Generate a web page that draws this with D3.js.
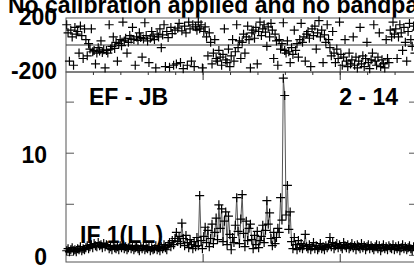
<!DOCTYPE html>
<html>
<head>
<meta charset="utf-8">
<script src="https://cdn.jsdelivr.net/npm/d3@7"></script>
<style>
  body { margin: 0; background: #fff; }
  svg text { font-family: "Liberation Sans", Arial, sans-serif; font-weight: bold; }
</style>
</head>
<body>
<div id="chart"></div>
<script>
// channel numbers: every second channel of a 512 channel spectrum
var channels = d3.range(1, 512, 2);

// amplitude per channel (lower panel)
var amplitude = [
  0.4,0.6,0.3,0.5,0.7,0.4,0.5,0.3,0.6,0.5,0.8,0.4,0.6,0.5,0.7,0.9,
  0.6,0.8,1.0,0.7,1.1,0.9,0.8,1.2,0.9,1.0,0.7,1.1,0.8,1.0,0.9,0.6,
  0.8,0.5,0.9,0.7,0.6,0.8,0.5,0.9,0.7,1.0,0.6,0.8,0.5,0.7,0.9,0.6,
  0.8,0.5,0.7,0.9,0.6,0.4,0.8,0.6,0.9,0.5,0.7,0.6,0.8,0.4,0.7,0.5,
  0.6,0.9,0.5,0.7,0.4,0.8,0.6,1.0,0.7,0.5,0.9,1.2,0.8,1.4,1.0,1.6,
  2.2,1.3,1.8,1.1,3.1,1.6,0.9,1.9,1.2,0.7,1.5,1.0,0.6,1.3,0.8,1.7,
  0.9,5.8,1.4,0.6,1.8,2.7,1.2,2.4,0.8,1.6,3.0,1.1,2.2,3.6,1.5,4.9,
  2.6,4.5,1.3,3.3,4.2,1.0,3.8,2.0,0.5,1.7,1.2,2.9,5.6,2.3,1.1,3.5,
  5.9,2.1,0.8,3.3,1.4,2.6,3.0,1.5,0.6,1.9,1.0,2.3,0.7,1.4,1.8,2.9,
  1.2,2.4,5.3,3.0,4.1,1.6,0.9,2.2,1.1,1.7,2.6,2.2,5.6,3.4,17.3,15.6,
  3.9,6.8,2.5,4.2,1.3,0.6,1.7,1.0,0.5,1.4,0.7,1.1,0.6,0.9,2.0,0.8,
  0.6,1.0,0.5,0.8,1.2,0.6,0.9,0.5,0.7,1.1,0.6,0.8,0.5,0.9,0.7,1.0,
  1.7,0.8,1.2,0.6,0.9,1.1,0.7,1.0,0.8,0.6,1.2,0.9,0.7,1.0,0.6,0.8,
  1.1,0.7,0.9,0.5,1.0,0.8,0.6,1.1,0.7,0.9,0.5,0.8,1.0,0.6,0.9,0.7,
  0.5,0.8,1.0,0.6,0.9,0.4,0.7,1.0,0.6,0.8,0.5,0.9,0.7,0.6,1.0,0.5,
  0.8,0.6,0.9,0.4,0.7,1.0,0.6,0.8,0.5,0.7,0.9,0.6,0.4,0.8,0.6,0.7
];

// phase per channel in degrees (upper panel)
var phase = [
  150,90,-120,110,60,-150,130,80,100,-60,140,70,-100,120,40,-80,
  10,-30,120,-50,-40,-140,-60,-20,-45,30,-55,-35,-170,-40,-60,150,
  -30,-10,60,-25,20,-120,10,40,-5,170,30,50,-60,20,70,45,
  130,40,-150,60,35,90,55,-90,45,165,70,30,-130,50,100,65,
  40,-170,80,60,120,-20,75,150,-160,100,55,-165,130,85,-150,110,
  -140,125,160,-130,105,-175,140,90,-150,170,120,-120,150,-160,135,110,
  170,120,150,-170,100,135,60,-80,90,20,-140,-60,40,-100,-120,-40,
  -90,-150,-70,120,-110,-130,-30,-160,-80,40,-120,-50,150,-20,30,-100,
  20,80,-60,60,140,40,-170,90,110,50,130,-140,100,170,70,120,
  150,95,-10,135,60,160,110,-100,80,30,-150,40,-30,10,165,-40,
  -60,30,-50,-130,-20,-70,110,-40,10,-90,40,160,20,60,-120,80,
  100,50,-160,120,70,140,-30,90,180,60,110,-130,75,20,150,40,
  -20,-80,100,-60,-130,-30,-100,170,-70,-150,-90,40,-120,-160,-60,-140,
  -110,60,-150,-90,-170,-120,130,-140,-80,-160,-100,20,-130,-175,-110,-60,
  150,-120,-150,-90,90,-160,-110,-140,-170,40,-100,-130,110,60,170,80,
  120,-100,60,150,90,-40,130,20,-120,100,160,40,-10,140,-60,110
];

var ampTicks = [0, 5, 10, 15];
var ampLabels = [0, 10];
var phaseLabels = [200, -200];
var chanTicks = [200, 400];

var width = 414, height = 269;
var left = 66, right = 417;
var phTop = 18, phBot = 72, ampBot = 262;
var fs = 23;

var svg = d3.select("#chart").append("svg")
  .attr("width", width).attr("height", height);

var x = d3.scaleLinear().domain([0, 512]).range([left, right]);
var yPh = d3.scaleLinear().domain([-200, 200]).range([phBot, phTop]);
var yAmp = d3.scaleLinear().domain([-0.7, 17.9]).range([ampBot, phBot]);

// title (cropped at the top like the original)
svg.append("text")
  .attr("x", 8).attr("y", 13)
  .attr("font-size", fs)
  .text("No calibration applied and no bandpass applied");

// frames
var frame = svg.append("g").attr("fill", "none").attr("stroke", "#555").attr("stroke-width", 1);
frame.append("rect").attr("x", left).attr("y", phTop).attr("width", right - left).attr("height", phBot - phTop);
frame.append("rect").attr("x", left).attr("y", phBot).attr("width", right - left).attr("height", ampBot - phBot);
frame.append("line").attr("x1", left).attr("x2", right).attr("y1", yPh(0)).attr("y2", yPh(0)).attr("stroke", "#333");

// amplitude ticks, left and right, pointing in
var ampAxis = svg.append("g").attr("transform", "translate(" + left + ",0)")
  .call(d3.axisLeft(yAmp).tickValues(ampTicks).tickSize(-8).tickPadding(19)
    .tickFormat(function(d){ return ampLabels.indexOf(d) >= 0 ? d : ""; }));
ampAxis.select(".domain").remove();
ampAxis.selectAll("line").attr("stroke", "#555");
ampAxis.selectAll("text").attr("font-size", fs).attr("fill", "#000").attr("dy", "0.42em");

var ampAxisR = svg.append("g").attr("transform", "translate(" + right + ",0)")
  .call(d3.axisRight(yAmp).tickValues(ampTicks).tickSize(-8).tickFormat(""));
ampAxisR.select(".domain").remove();
ampAxisR.selectAll("line").attr("stroke", "#555");

// phase labels
svg.append("g").selectAll("text").data(phaseLabels).enter().append("text")
  .attr("x", left - 9).attr("y", function(d){ return yPh(d); })
  .attr("dy", "0.3em")
  .attr("text-anchor", "end").attr("font-size", fs)
  .text(function(d){ return d; });

// channel ticks
var chanG = svg.append("g").attr("stroke", "#333");
chanG.selectAll(".b").data(chanTicks).enter().append("line")
  .attr("x1", x).attr("x2", x).attr("y1", ampBot).attr("y2", ampBot - 8);
chanG.selectAll(".m").data(chanTicks).enter().append("line")
  .attr("x1", x).attr("x2", x).attr("y1", phBot - 8).attr("y2", phBot + 8);
chanG.selectAll(".n").data(d3.range(40, 512, 40)).enter().append("line")
  .attr("x1", x).attr("x2", x).attr("y1", phBot).attr("y2", phBot + 3);

// plus-marker path
function plus(cx, cy, s){
  return "M" + (cx - s) + "," + cy + "H" + (cx + s) + "M" + cx + "," + (cy - s) + "V" + (cy + s);
}

// amplitude line and markers
var ampData = channels.map(function(c, i){ return {c: c, v: amplitude[i]}; });
svg.append("path").datum(ampData)
  .attr("fill", "none").attr("stroke", "#555").attr("stroke-width", 1)
  .attr("d", d3.line().x(function(d){ return x(d.c); }).y(function(d){ return yAmp(d.v); }));
svg.append("path")
  .attr("fill", "none").attr("stroke", "#000").attr("stroke-width", 1.2)
  .attr("d", ampData.map(function(d){ return plus(x(d.c), yAmp(d.v), 4.5); }).join(""));

// phase markers
svg.append("path")
  .attr("fill", "none").attr("stroke", "#000").attr("stroke-width", 1.2)
  .attr("d", channels.map(function(c, i){ return plus(x(c), yPh(phase[i]), 4.5); }).join(""));

// labels inside the plot
svg.append("text").attr("x", 89).attr("y", 105).attr("font-size", fs).text("EF - JB");
svg.append("text").attr("x", 398).attr("y", 105).attr("font-size", fs).attr("text-anchor", "end").text("2 - 14");
svg.append("text").attr("x", 80).attr("y", 243).attr("font-size", fs).text("IF 1(LL)");
</script>
</body>
</html>
